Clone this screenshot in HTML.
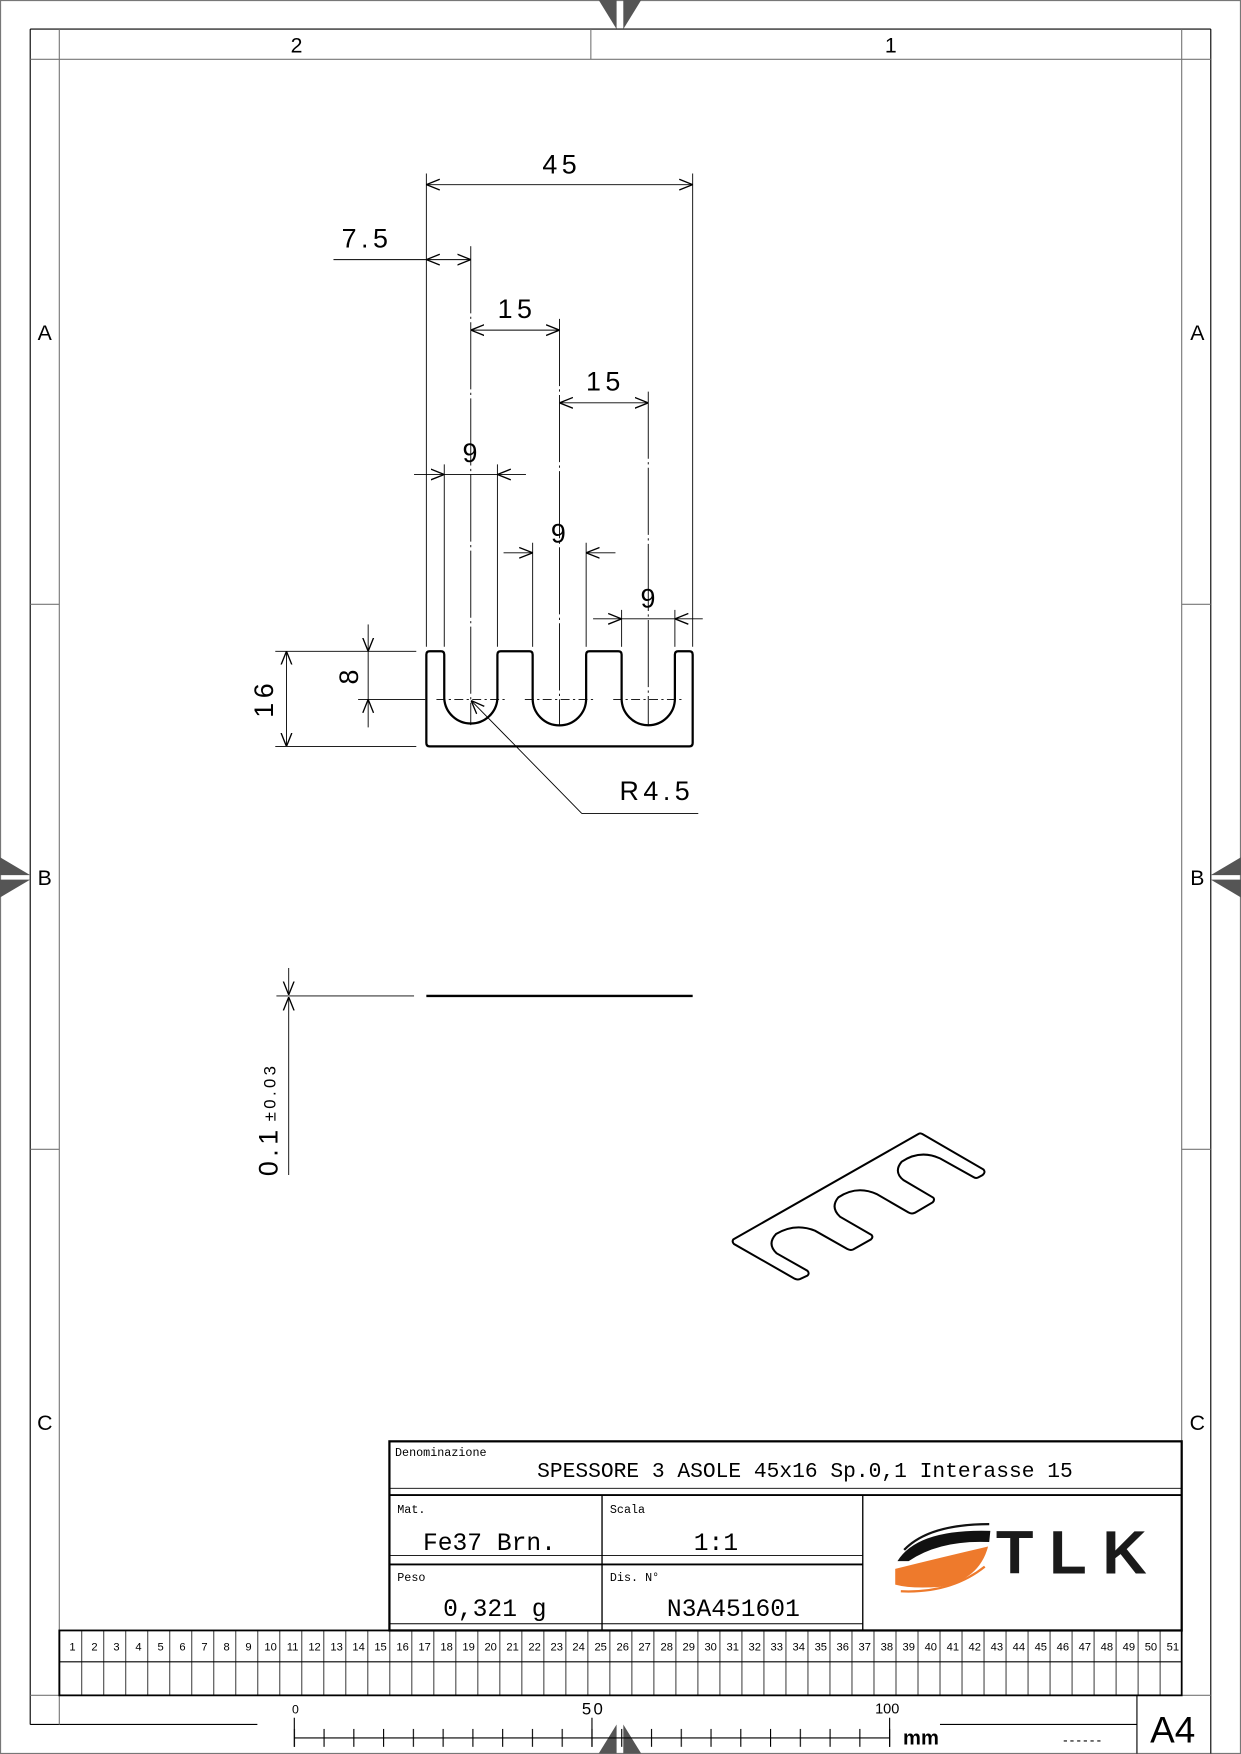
<!DOCTYPE html>
<html><head><meta charset="utf-8"><style>
html,body{margin:0;padding:0;background:#fff}
svg{display:block}
.d{font-family:"Liberation Sans",sans-serif;font-size:24px;letter-spacing:4px;fill:#000}
.m{font-family:"Liberation Mono",monospace;fill:#000}
.n{font-family:"Liberation Sans",sans-serif;font-size:10px;fill:#000;text-anchor:middle}
</style></head><body>
<svg width="1241" height="1754" viewBox="0 0 1109 1567.4" preserveAspectRatio="none" xmlns="http://www.w3.org/2000/svg">
<defs>
<marker id="a" viewBox="0 0 10 10" refX="10" refY="5" markerWidth="12" markerHeight="12" markerUnits="userSpaceOnUse" orient="auto-start-reverse"><path d="M0,1 L10,5 L0,9" fill="none" stroke="#000" stroke-width="1"/></marker>
<pattern id="cells" x="53" y="0" width="19.667" height="100" patternUnits="userSpaceOnUse"><line x1="0" y1="0" x2="0" y2="100" stroke="#000" stroke-width="1.4"/></pattern>
<pattern id="tk" x="262.5" y="0" width="26.6" height="100" patternUnits="userSpaceOnUse"><line x1="0.5" y1="0" x2="0.5" y2="100" stroke="#000" stroke-width="1"/></pattern>
</defs>
<rect x="0.5" y="0.5" width="1108" height="1566.4" fill="none" stroke="#777" stroke-width="1"/>
<g stroke="#000" stroke-width="1" fill="none">
<line x1="27" y1="26" x2="1082" y2="26"/>
<line x1="27" y1="26" x2="27" y2="1541"/>
<line x1="1082" y1="26" x2="1082" y2="1567"/>
<line x1="27" y1="1541" x2="230" y2="1541"/>
</g>
<g stroke="#777" stroke-width="1" fill="none">
<line x1="27" y1="53" x2="1082" y2="53"/>
<line x1="53" y1="26" x2="53" y2="1541"/>
<line x1="1056" y1="26" x2="1056" y2="1515"/>
<line x1="528" y1="26" x2="528" y2="53"/>
<line x1="27" y1="540" x2="53" y2="540"/><line x1="27" y1="1027" x2="53" y2="1027"/>
<line x1="1056" y1="540" x2="1082" y2="540"/><line x1="1056" y1="1027" x2="1082" y2="1027"/>
<line x1="27" y1="1515" x2="1082" y2="1515"/>
</g>
<g font-family="Liberation Sans,sans-serif" font-size="19" text-anchor="middle">
<text x="265" y="47">2</text><text x="796" y="47">1</text>
<text x="40" y="304">A</text><text x="40" y="791">B</text><text x="40" y="1278">C</text>
<text x="1070" y="304">A</text><text x="1070" y="791">B</text><text x="1070" y="1278">C</text>
</g>
<g fill="#555">
<polygon points="535,0 551,0 551,26"/><polygon points="557,0 573,0 557,26"/>
<polygon points="535,1567 551,1567 551,1541"/><polygon points="557,1567 573,1567 557,1541"/>
<polygon points="0,766 0,782 27,782"/><polygon points="0,802 0,786 27,786"/>
<polygon points="1109,766 1109,782 1082,782"/><polygon points="1109,802 1109,786 1082,786"/>
</g>

<path d="M381,664 L381,585 Q381,582 384,582 L394,582 Q397,582 397,585 L397,624.3 A23.8,23.8 0 0 0 444.5,624.3 L444.5,585 Q444.5,582 447.5,582 L473,582 Q476,582 476,585 L476,624.3 A23.8,23.8 0 0 0 523.8,624.3 L523.8,585 Q523.8,582 526.8,582 L552.5,582 Q555.5,582 555.5,585 L555.5,624.3 A23.8,23.8 0 0 0 603.1,624.3 L603.1,585 Q603.1,582 606.1,582 L616,582 Q619,582 619,585 L619,664 Q619,667 616,667 L384,667 Q381,667 381,664 Z" fill="none" stroke="#000" stroke-width="2"/>
<g stroke="#000" stroke-width="0.8" fill="none">
<line x1="390" y1="625" x2="452" y2="625" stroke-dasharray="8,3,2,3"/>
<line x1="469" y1="625" x2="531" y2="625" stroke-dasharray="8,3,2,3"/>
<line x1="548" y1="625" x2="610" y2="625" stroke-dasharray="8,3,2,3"/>
<line x1="420.7" y1="220" x2="420.7" y2="648" stroke-dasharray="60,3,2,3"/>
<line x1="500" y1="285" x2="500" y2="648" stroke-dasharray="60,3,2,3"/>
<line x1="579.3" y1="350" x2="579.3" y2="648" stroke-dasharray="60,3,2,3"/>
<line x1="381" y1="155" x2="381" y2="578"/><line x1="619" y1="155" x2="619" y2="578"/>
<line x1="397" y1="415" x2="397" y2="578"/><line x1="444.5" y1="415" x2="444.5" y2="578"/>
<line x1="476" y1="485" x2="476" y2="578"/><line x1="523.8" y1="485" x2="523.8" y2="578"/>
<line x1="555.5" y1="545" x2="555.5" y2="578"/><line x1="603.1" y1="545" x2="603.1" y2="578"/>
<line x1="381" y1="165" x2="619" y2="165" marker-start="url(#a)" marker-end="url(#a)"/>
<line x1="298" y1="232" x2="381" y2="232"/>
<line x1="381" y1="232" x2="420.7" y2="232" marker-start="url(#a)" marker-end="url(#a)"/>
<line x1="420.7" y1="295" x2="500" y2="295" marker-start="url(#a)" marker-end="url(#a)"/>
<line x1="500" y1="360" x2="579.3" y2="360" marker-start="url(#a)" marker-end="url(#a)"/>
<line x1="370" y1="424" x2="397" y2="424" marker-end="url(#a)"/><line x1="470" y1="424" x2="444.5" y2="424" marker-end="url(#a)"/><line x1="397" y1="424" x2="444.5" y2="424"/>
<line x1="450" y1="494" x2="476" y2="494" marker-end="url(#a)"/><line x1="550" y1="494" x2="523.8" y2="494" marker-end="url(#a)"/>
<line x1="530" y1="553" x2="555.5" y2="553" marker-end="url(#a)"/><line x1="628" y1="553" x2="603.1" y2="553" marker-end="url(#a)"/><line x1="555.5" y1="553" x2="603.1" y2="553"/>
<line x1="246" y1="582" x2="372" y2="582"/><line x1="246" y1="667" x2="372" y2="667"/>
<line x1="256" y1="582" x2="256" y2="667" marker-start="url(#a)" marker-end="url(#a)"/>
<line x1="320" y1="625" x2="380" y2="625"/>
<line x1="329" y1="558" x2="329" y2="582" marker-end="url(#a)"/>
<line x1="329" y1="650" x2="329" y2="625" marker-end="url(#a)"/>
<line x1="329" y1="582" x2="329" y2="625"/>
<polyline points="520,727 624,727"/>
<line x1="520" y1="727" x2="421" y2="626" marker-end="url(#a)"/>
<line x1="247" y1="890" x2="370" y2="890"/>
<line x1="258" y1="865" x2="258" y2="889" marker-end="url(#a)"/>
<line x1="258" y1="1050" x2="258" y2="891" marker-end="url(#a)"/>
</g>
<line x1="381" y1="890" x2="619" y2="890" stroke="#000" stroke-width="2.2"/>
<text class="d" x="502" y="155" text-anchor="middle">45</text>
<text class="d" x="328" y="221" text-anchor="middle">7.5</text>
<text class="d" x="462" y="284" text-anchor="middle">15</text>
<text class="d" x="541" y="349" text-anchor="middle">15</text>
<text class="d" x="422" y="413" text-anchor="middle">9</text>
<text class="d" x="501" y="485" text-anchor="middle">9</text>
<text class="d" x="581" y="543" text-anchor="middle">9</text>
<text class="d" x="587" y="715" text-anchor="middle">R4.5</text>
<text class="d" transform="translate(244,624) rotate(-90)" text-anchor="middle">16</text>
<text class="d" transform="translate(320,603) rotate(-90)" text-anchor="middle">8</text>
<text class="d" transform="translate(248,1051) rotate(-90)">0.1</text>
<text transform="translate(246,1002) rotate(-90)" font-family="Liberation Sans,sans-serif" font-size="15" letter-spacing="3">±0.03</text>

<g transform="scale(0.89364) translate(720,1120) scale(0.33333)">
<path d="M40,358 L595,42 Q600,38 607,42 L790,148 Q798,156 788,165 L775,172 Q768,176 760,171 L660,115 Q600,88 545,125 Q520,155 550,180 L640,233 Q645,240 638,247 L585,278 Q575,283 565,277 L470,222 Q410,195 355,232 Q330,262 360,290 L455,345 Q460,352 453,358 L400,388 Q392,392 382,387 L285,332 Q225,308 168,342 Q140,372 170,400 L262,452 Q270,460 262,467 L240,477 Q232,480 224,476 L42,372 Q35,365 40,358 Z" fill="none" stroke="#000" stroke-width="6"/>
</g>

<g stroke="#000" fill="none">
<rect x="348" y="1288" width="708" height="169" stroke-width="2"/>
<line x1="348" y1="1330" x2="1056" y2="1330" stroke-width="0.8"/>
<line x1="348" y1="1336" x2="1056" y2="1336" stroke-width="1.6"/>
<line x1="538" y1="1336" x2="538" y2="1457" stroke-width="1.2"/>
<line x1="771" y1="1336" x2="771" y2="1457" stroke-width="1.2"/>
<line x1="348" y1="1390" x2="771" y2="1390" stroke-width="0.8"/>
<line x1="348" y1="1398" x2="771" y2="1398" stroke-width="1.6"/>
<line x1="348" y1="1451" x2="771" y2="1451" stroke-width="0.8"/>
</g>
<text class="m" x="353" y="1301" font-size="10.5">Denominazione</text>
<text class="m" x="480" y="1320" font-size="19">SPESSORE 3 ASOLE 45x16 Sp.0,1 Interasse 15</text>
<text class="m" x="355" y="1352" font-size="10.5">Mat.</text>
<text class="m" x="378" y="1385" font-size="22">Fe37 Brn.</text>
<text class="m" x="545" y="1352" font-size="10.5">Scala</text>
<text class="m" x="620" y="1385" font-size="22">1:1</text>
<text class="m" x="355" y="1413" font-size="10.5">Peso</text>
<text class="m" x="396" y="1444" font-size="22">0,321 g</text>
<text class="m" x="545" y="1413" font-size="10.5">Dis. N°</text>
<text class="m" x="596" y="1444" font-size="22">N3A451601</text>
<path d="M802,1395 Q820,1366 885,1368 L884,1378 Q840,1376 812,1395 Z" fill="#111"/>
<path d="M808,1385 Q830,1362 884,1362" stroke="#111" stroke-width="2" fill="none"/>
<path d="M800,1402 Q840,1392 883,1382 Q875,1412 840,1418 Q815,1420 800,1416 Z" fill="#ee7a2c"/>
<path d="M805,1422 Q850,1424 880,1400" stroke="#ee7a2c" stroke-width="2" fill="none"/>
<text x="890" y="1406" font-family="Liberation Sans,sans-serif" font-weight="bold" font-size="55" letter-spacing="14" fill="#1a1a1a">TLK</text>

<rect x="53" y="1457" width="1003" height="58" fill="url(#cells)"/>
<g stroke="#000" stroke-width="1.6" fill="none">
<rect x="53" y="1457" width="1003" height="58"/>
<line x1="53" y1="1485" x2="1056" y2="1485" stroke-width="1"/>
</g>
<g class="n">
<text class="n" x="64.8" y="1475">1</text><text class="n" x="84.5" y="1475">2</text><text class="n" x="104.1" y="1475">3</text><text class="n" x="123.8" y="1475">4</text><text class="n" x="143.5" y="1475">5</text><text class="n" x="163.1" y="1475">6</text><text class="n" x="182.8" y="1475">7</text><text class="n" x="202.5" y="1475">8</text><text class="n" x="222.1" y="1475">9</text><text class="n" x="241.8" y="1475">10</text>
<text class="n" x="261.5" y="1475">11</text><text class="n" x="281.1" y="1475">12</text><text class="n" x="300.8" y="1475">13</text><text class="n" x="320.5" y="1475">14</text><text class="n" x="340.1" y="1475">15</text><text class="n" x="359.8" y="1475">16</text><text class="n" x="379.5" y="1475">17</text><text class="n" x="399.1" y="1475">18</text><text class="n" x="418.8" y="1475">19</text><text class="n" x="438.5" y="1475">20</text>
<text class="n" x="458.1" y="1475">21</text><text class="n" x="477.8" y="1475">22</text><text class="n" x="497.5" y="1475">23</text><text class="n" x="517.1" y="1475">24</text><text class="n" x="536.8" y="1475">25</text><text class="n" x="556.5" y="1475">26</text><text class="n" x="576.1" y="1475">27</text><text class="n" x="595.8" y="1475">28</text><text class="n" x="615.5" y="1475">29</text><text class="n" x="635.1" y="1475">30</text>
<text class="n" x="654.8" y="1475">31</text><text class="n" x="674.5" y="1475">32</text><text class="n" x="694.1" y="1475">33</text><text class="n" x="713.8" y="1475">34</text><text class="n" x="733.5" y="1475">35</text><text class="n" x="753.1" y="1475">36</text><text class="n" x="772.8" y="1475">37</text><text class="n" x="792.5" y="1475">38</text><text class="n" x="812.1" y="1475">39</text><text class="n" x="831.8" y="1475">40</text>
<text class="n" x="851.5" y="1475">41</text><text class="n" x="871.1" y="1475">42</text><text class="n" x="890.8" y="1475">43</text><text class="n" x="910.5" y="1475">44</text><text class="n" x="930.1" y="1475">45</text><text class="n" x="949.8" y="1475">46</text><text class="n" x="969.5" y="1475">47</text><text class="n" x="989.1" y="1475">48</text><text class="n" x="1008.8" y="1475">49</text><text class="n" x="1028.5" y="1475">50</text>
<text class="n" x="1048.1" y="1475">51</text>
</g>

<g stroke="#000" stroke-width="1" fill="none">
<line x1="263" y1="1553" x2="795" y2="1553"/>
<line x1="840" y1="1541" x2="1016" y2="1541"/>
<line x1="1016" y1="1515" x2="1016" y2="1567"/>
<line x1="263" y1="1535" x2="263" y2="1561"/>
<line x1="529" y1="1535" x2="529" y2="1561"/>
<line x1="795" y1="1535" x2="795" y2="1561"/>
</g>
<rect x="262.5" y="1545" width="534" height="16" fill="url(#tk)"/>
<text x="261" y="1531" font-family="Liberation Sans,sans-serif" font-size="11">0</text>
<text x="520" y="1532" font-family="Liberation Sans,sans-serif" font-size="15" letter-spacing="2">50</text>
<text x="782" y="1531" font-family="Liberation Sans,sans-serif" font-size="13">100</text>
<text x="807" y="1559" font-family="Liberation Sans,sans-serif" font-size="18" font-weight="bold">mm</text>
<text x="950" y="1559" font-family="Liberation Sans,sans-serif" font-size="12" letter-spacing="2">------</text>
<text x="1048" y="1557" font-family="Liberation Sans,sans-serif" font-size="33" text-anchor="middle">A4</text>
</svg>
</body></html>
